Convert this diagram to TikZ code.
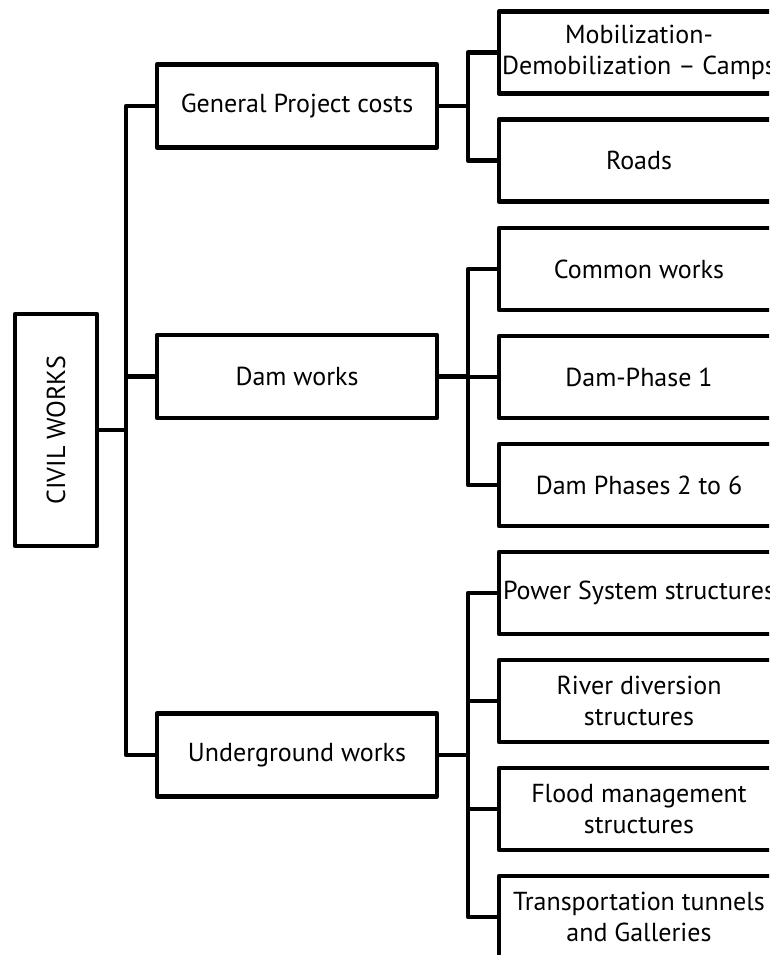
\documentclass[tikz,border=0pt]{standalone}
\usepackage{fontspec}
\setmainfont{PT Sans}
\begin{document}
\begin{tikzpicture}[x=1pt,y=-1pt,
  lw/.style={line width=4.3pt},
  txt/.style={font=\fontsize{26}{30.5}\selectfont},
  box/.style={draw,lw,line join=round,align=center,inner sep=0pt,txt},
  midbox/.style={box,minimum width=280pt,minimum height=83pt},
  leafbox/.style={box,minimum width=280pt,minimum height=82pt},
  link/.style={lw,line join=round}]
\useasboundingbox (0,0) rectangle (769,955);
\clip (0,0) rectangle (769,955);

% root
\node[box,minimum width=82pt,minimum height=232pt] (root) at (56,430) {};
\node[rotate=90,txt] (rootlbl) at (root.center) {CIVIL WORKS};

% second level
\node[midbox] (gen) at (297,106) {General Project costs};
\node[midbox] (dam) at (297,376.5) {Dam works};
\node[midbox] (und) at (297,755) {Underground works};

% leaves
\node[leafbox] (mob) at (639,52.5) {Mobilization-\\Demobilization -- Camps};
\node[leafbox] (roads) at (639,160.5) {Roads};
\node[leafbox] (common) at (639,269) {Common works};
\node[leafbox] (ph1) at (639,377) {Dam-Phase 1};
\node[leafbox] (ph2) at (639,485) {Dam Phases 2 to 6};
\node[leafbox] (power) at (639,593) {Power System structures};
\node[leafbox] (river) at (639,701) {River diversion\\structures};
\node[leafbox] (flood) at (639,809) {Flood management\\structures};
\node[leafbox] (trans) at (639,917) {Transportation tunnels\\and Galleries};

% root to second level
\draw[link] (root.east) -- ++(28,0);
\draw[link] (gen.west) -- ++(-29,0) |- (und.west);
\draw[link] (dam.west) -- ++(-29,0);

% general project costs
\draw[link] (gen.east) -- ++(29,0);
\draw[link] (mob.west) -- ++(-29,0) |- (roads.west);

% dam works
\draw[link] (dam.east) -- ++(29,0);
\draw[link] (common.west) -- ++(-29,0) |- (ph2.west);
\draw[link] (ph1.west) -- ++(-29,0);

% underground works
\draw[link] (und.east) -- ++(29,0);
\draw[link] (power.west) -- ++(-29,0) |- (trans.west);
\draw[link] (river.west) -- ++(-29,0);
\draw[link] (flood.west) -- ++(-29,0);
\end{tikzpicture}
\end{document}
